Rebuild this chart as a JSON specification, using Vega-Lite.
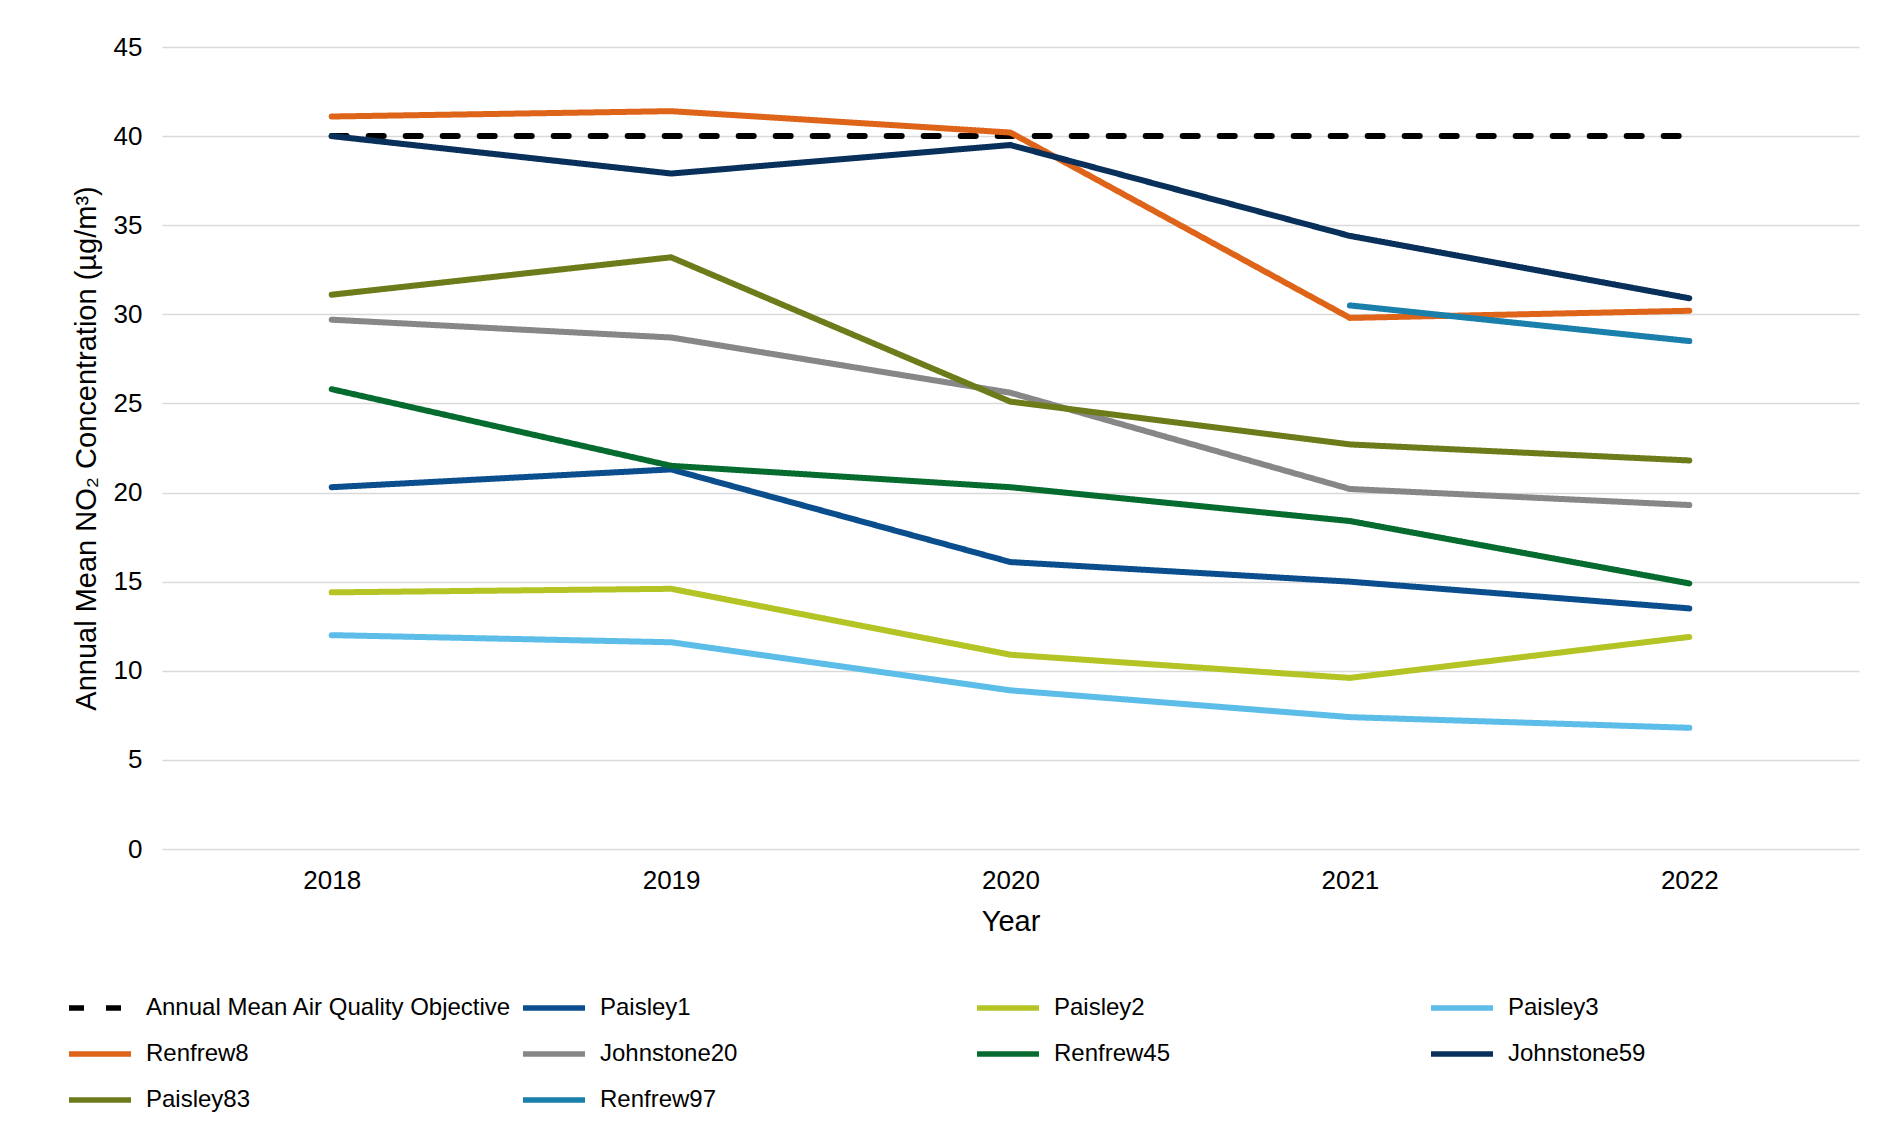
{
  "$schema": "https://vega.github.io/schema/vega-lite/v6.json",
  "autosize": "none",
  "width": 1697,
  "height": 802,
  "padding": {"left": 162, "top": 47, "right": 22, "bottom": 289},
  "background": "white",
  "config": {
    "font": "Liberation Sans",
    "view": {"stroke": null},
    "axis": {
      "labelColor": "#000000",
      "titleColor": "#000000",
      "titleFontWeight": "normal",
      "labelFontSize": 26,
      "titleFontSize": 29,
      "domain": false,
      "ticks": false
    },
    "legend": {
      "labelColor": "#000000",
      "labelFontSize": 24,
      "labelLimit": 600
    }
  },
  "data": {
    "values": [
      {"year": "2018", "series": "Annual Mean Air Quality Objective", "value": 40},
      {"year": "2019", "series": "Annual Mean Air Quality Objective", "value": 40},
      {"year": "2020", "series": "Annual Mean Air Quality Objective", "value": 40},
      {"year": "2021", "series": "Annual Mean Air Quality Objective", "value": 40},
      {"year": "2022", "series": "Annual Mean Air Quality Objective", "value": 40},
      {"year": "2018", "series": "Paisley1", "value": 20.3},
      {"year": "2019", "series": "Paisley1", "value": 21.3},
      {"year": "2020", "series": "Paisley1", "value": 16.1},
      {"year": "2021", "series": "Paisley1", "value": 15.0},
      {"year": "2022", "series": "Paisley1", "value": 13.5},
      {"year": "2018", "series": "Paisley2", "value": 14.4},
      {"year": "2019", "series": "Paisley2", "value": 14.6},
      {"year": "2020", "series": "Paisley2", "value": 10.9},
      {"year": "2021", "series": "Paisley2", "value": 9.6},
      {"year": "2022", "series": "Paisley2", "value": 11.9},
      {"year": "2018", "series": "Paisley3", "value": 12.0},
      {"year": "2019", "series": "Paisley3", "value": 11.6},
      {"year": "2020", "series": "Paisley3", "value": 8.9},
      {"year": "2021", "series": "Paisley3", "value": 7.4},
      {"year": "2022", "series": "Paisley3", "value": 6.8},
      {"year": "2018", "series": "Renfrew8", "value": 41.1},
      {"year": "2019", "series": "Renfrew8", "value": 41.4},
      {"year": "2020", "series": "Renfrew8", "value": 40.2},
      {"year": "2021", "series": "Renfrew8", "value": 29.8},
      {"year": "2022", "series": "Renfrew8", "value": 30.2},
      {"year": "2018", "series": "Johnstone20", "value": 29.7},
      {"year": "2019", "series": "Johnstone20", "value": 28.7},
      {"year": "2020", "series": "Johnstone20", "value": 25.6},
      {"year": "2021", "series": "Johnstone20", "value": 20.2},
      {"year": "2022", "series": "Johnstone20", "value": 19.3},
      {"year": "2018", "series": "Renfrew45", "value": 25.8},
      {"year": "2019", "series": "Renfrew45", "value": 21.5},
      {"year": "2020", "series": "Renfrew45", "value": 20.3},
      {"year": "2021", "series": "Renfrew45", "value": 18.4},
      {"year": "2022", "series": "Renfrew45", "value": 14.9},
      {"year": "2018", "series": "Johnstone59", "value": 40.0},
      {"year": "2019", "series": "Johnstone59", "value": 37.9},
      {"year": "2020", "series": "Johnstone59", "value": 39.5},
      {"year": "2021", "series": "Johnstone59", "value": 34.4},
      {"year": "2022", "series": "Johnstone59", "value": 30.9},
      {"year": "2018", "series": "Paisley83", "value": 31.1},
      {"year": "2019", "series": "Paisley83", "value": 33.2},
      {"year": "2020", "series": "Paisley83", "value": 25.1},
      {"year": "2021", "series": "Paisley83", "value": 22.7},
      {"year": "2022", "series": "Paisley83", "value": 21.8},
      {"year": "2021", "series": "Renfrew97", "value": 30.5},
      {"year": "2022", "series": "Renfrew97", "value": 28.5}
    ]
  },
  "mark": {"type": "line", "strokeWidth": 6, "strokeCap": "round", "strokeJoin": "round"},
  "encoding": {
    "x": {
      "field": "year",
      "type": "ordinal",
      "scale": {"padding": 0.5},
      "axis": {
        "title": "Year",
        "labelAngle": 0,
        "grid": false,
        "labelPadding": 18,
        "titlePadding": 14
      }
    },
    "y": {
      "field": "value",
      "type": "quantitative",
      "scale": {"domain": [0, 45], "nice": false, "zero": true},
      "axis": {
        "title": "Annual Mean NO₂ Concentration (µg/m³)",
        "values": [0, 5, 10, 15, 20, 25, 30, 35, 40, 45],
        "grid": true,
        "gridColor": "#D9D9D9",
        "gridWidth": 1.5,
        "labelPadding": 20,
        "titlePadding": 12
      }
    },
    "color": {
      "field": "series",
      "type": "nominal",
      "scale": {
        "domain": ["Annual Mean Air Quality Objective", "Paisley1", "Paisley2", "Paisley3", "Renfrew8", "Johnstone20", "Renfrew45", "Johnstone59", "Paisley83", "Renfrew97"],
        "range": ["#000000", "#0B4E8E", "#B4C424", "#5BBDE8", "#DE6419", "#878787", "#066B2E", "#08305A", "#6E7B1A", "#1A7FAA"]
      },
      "legend": {
        "title": null,
        "orient": "none",
        "direction": "horizontal",
        "legendX": -96,
        "legendY": 927,
        "columns": 4,
        "gridAlign": "all",
        "columnPadding": 0,
        "rowPadding": -17,
        "padding": 0,
        "symbolType": "stroke",
        "symbolSize": 3844,
        "symbolStrokeWidth": 5.5,
        "labelOffset": 12
      }
    },
    "strokeDash": {
      "field": "series",
      "type": "nominal",
      "scale": {
        "domain": ["Annual Mean Air Quality Objective", "Paisley1", "Paisley2", "Paisley3", "Renfrew8", "Johnstone20", "Renfrew45", "Johnstone59", "Paisley83", "Renfrew97"],
        "range": [[15, 22], [1, 0], [1, 0], [1, 0], [1, 0], [1, 0], [1, 0], [1, 0], [1, 0], [1, 0]]
      },
      "legend": {
        "title": null,
        "orient": "none",
        "direction": "horizontal",
        "legendX": -96,
        "legendY": 927,
        "columns": 4,
        "gridAlign": "all",
        "columnPadding": 0,
        "rowPadding": -17,
        "padding": 0,
        "symbolType": "stroke",
        "symbolSize": 3844,
        "symbolStrokeWidth": 5.5,
        "labelOffset": 12
      }
    }
  }
}
